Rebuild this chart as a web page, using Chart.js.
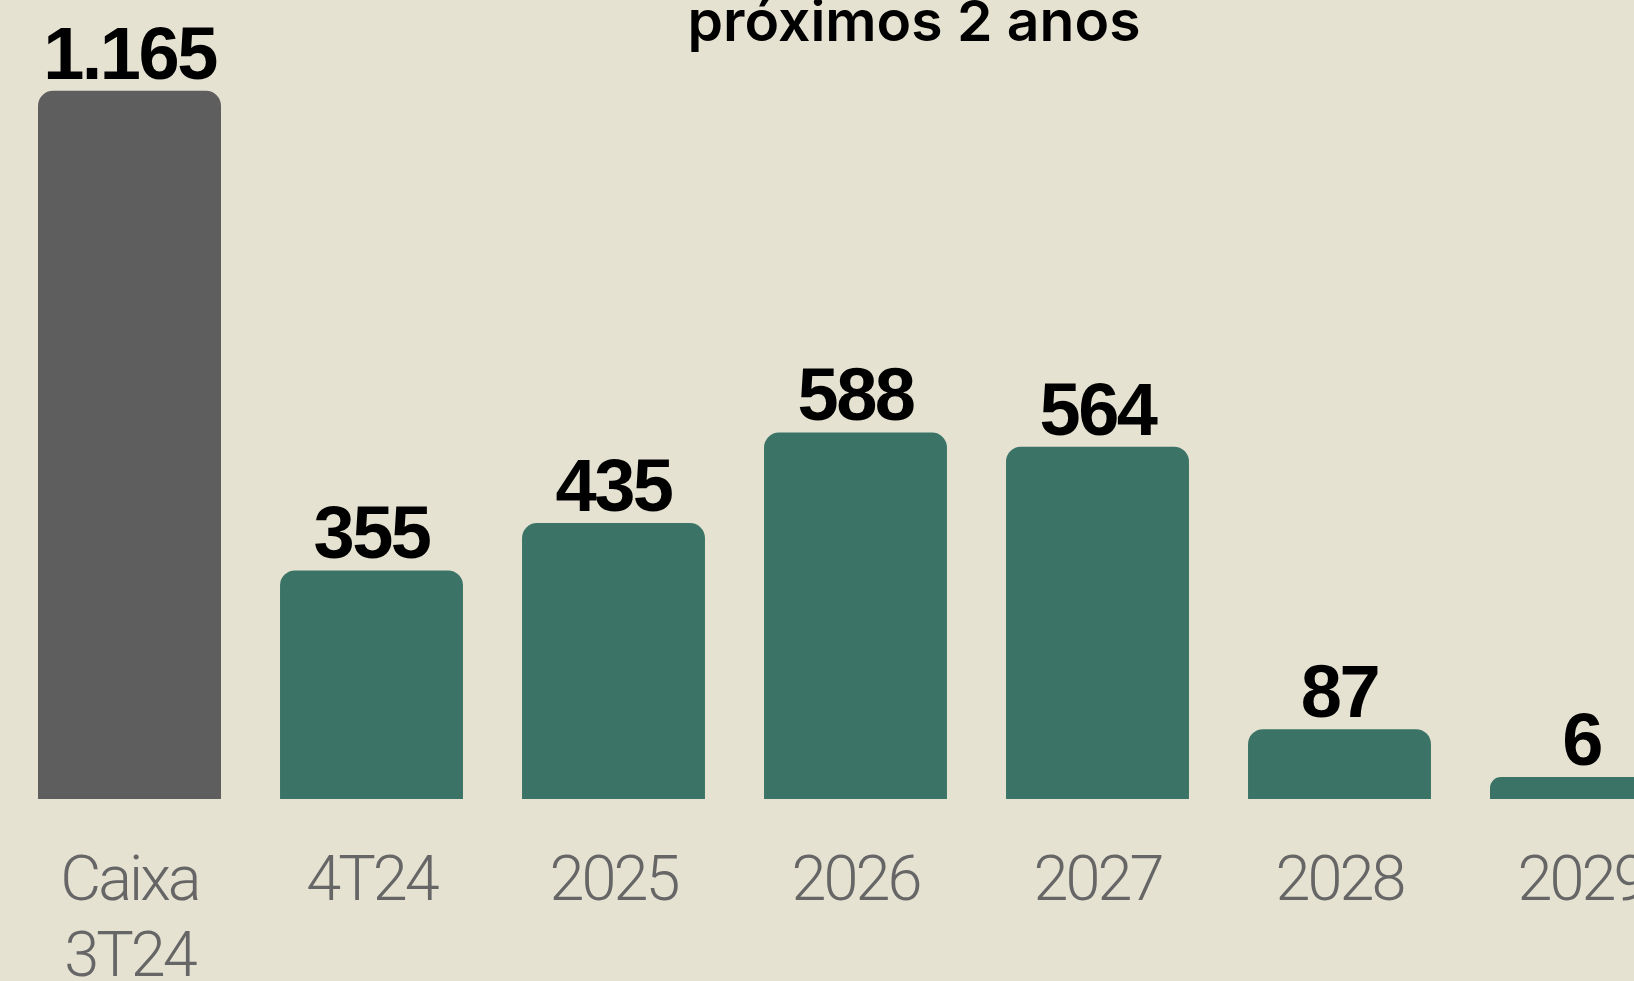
<!DOCTYPE html>
<html lang="pt-BR">
<head>
<meta charset="utf-8">
<script src="https://cdn.jsdelivr.net/npm/chart.js@4.4.1/dist/chart.umd.min.js"></script>
<style>
  html, body { margin: 0; padding: 0; background: #e5e2d2; overflow: hidden; }
  #wrap { position: relative; width: 1634px; height: 981px; overflow: hidden; }
  #titulo {
    position: absolute; left: 0; top: -4px; width: 1828px;
    margin: 0; text-align: center;
    font: 600 57px/50px Inter, sans-serif; color: #000;
  }
  #grafico { position: absolute; left: 0; top: 0; }
</style>
</head>
<body>
<div id="wrap">
  <canvas id="grafico" width="1710" height="1045"></canvas>
  <h1 id="titulo">próximos 2 anos</h1>
</div>
<script>
// dados
const categories = [['Caixa', '3T24'], '4T24', '2025', '2026', '2027', '2028', '2029'];
const values = [1165, 355, 435, 588, 564, 87, 6];
const barColors = ['#5e5e5e', '#3b7466', '#3b7466', '#3b7466', '#3b7466', '#3b7466', '#3b7466'];

const yMin = -31;
const yMax = 1234;

function fmt(n) {
  return String(n).replace(/\B(?=(\d{3})+(?!\d))/g, '.');
}

// rotulos de valor em cima das barras
const valueLabels = {
  id: 'valueLabels',
  beforeDraw(chart) {
    chart.ctx.letterSpacing = '-3px';
  },
  afterDatasetsDraw(chart) {
    const ctx = chart.ctx;
    const meta = chart.getDatasetMeta(0);
    ctx.save();
    ctx.font = '700 74px "Liberation Sans", Arial, sans-serif';
    ctx.letterSpacing = '-2.5px';
    ctx.fillStyle = '#000';
    ctx.textAlign = 'center';
    ctx.textBaseline = 'alphabetic';
    meta.data.forEach((bar, i) => {
      ctx.fillText(fmt(values[i]), bar.x, bar.y - 12);
    });
    ctx.restore();
  }
};

const chart = new Chart(document.getElementById('grafico'), {
  type: 'bar',
  data: {
    labels: categories,
    datasets: [{
      data: values,
      backgroundColor: barColors,
      base: yMin,
      borderRadius: { topLeft: 15, topRight: 15 },
      borderSkipped: 'bottom',
      barPercentage: 0.756,
      categoryPercentage: 1
    }]
  },
  options: {
    responsive: false,
    animation: false,
    layout: { padding: { left: 8.5, right: 7.5, top: 50, bottom: 0 } },
    plugins: {
      legend: { display: false },
      tooltip: { enabled: false }
    },
    scales: {
      x: {
        grid: { display: false, drawTicks: false },
        border: { display: false },
        ticks: {
          color: '#666',
          padding: 47,
          maxRotation: 0,
          autoSkip: false,
          font: { family: 'Roboto', weight: 300, size: 63, lineHeight: 76 / 63 }
        }
      },
      y: {
        display: false,
        min: yMin,
        max: yMax
      }
    }
  },
  plugins: [valueLabels]
});
</script>
</body>
</html>
